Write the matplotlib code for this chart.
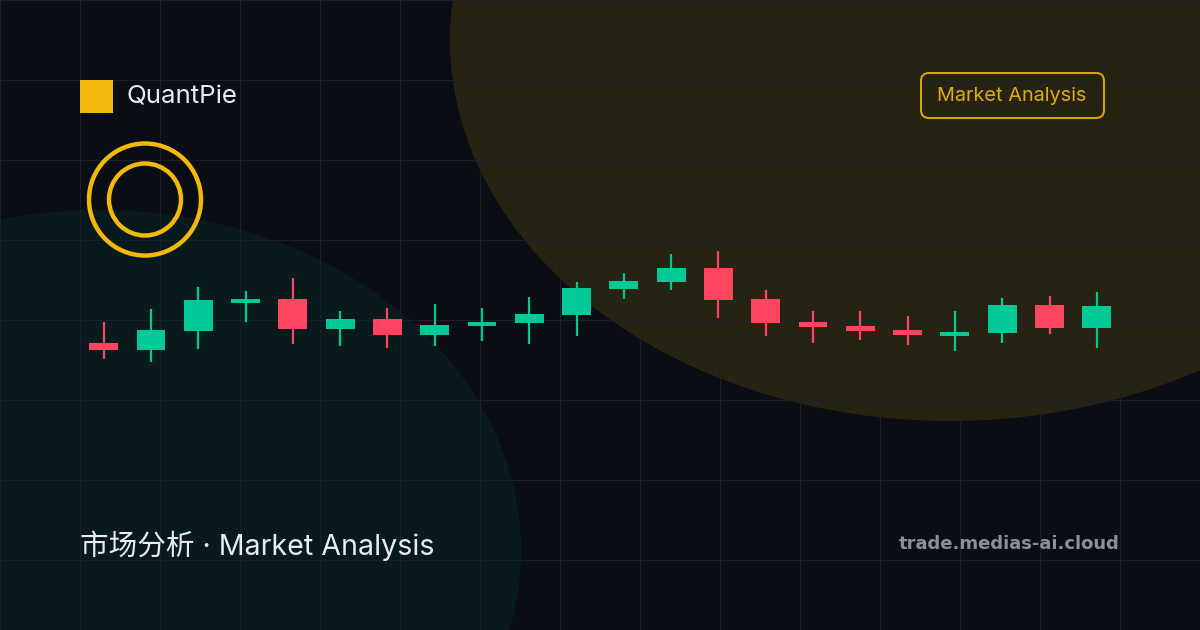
import matplotlib
matplotlib.use("Agg")
import matplotlib.pyplot as plt
from matplotlib.patches import Ellipse, Rectangle, FancyBboxPatch, Circle

BG = "#0a0d14"
GOLD = "#f0b90b"
UP = "#00c896"
DOWN = "#ff4560"
GRID = "#1c212b"

# Candle values (price units)
opens  = [287, 280, 299, 327, 331, 301, 311, 295, 304, 307, 315, 341, 348, 362, 331, 308, 304, 300, 294, 297, 325, 302]
closes = [280, 300, 330, 331, 301, 311, 295, 305, 308, 316, 342, 349, 362, 330, 307, 303, 299, 295, 298, 325, 302, 324]
highs  = [308, 321, 343, 339, 352, 319, 322, 326, 322, 333, 348, 357, 376, 379, 340, 319, 319, 314, 319, 332, 334, 338]
lows   = [271, 268, 281, 308, 286, 284, 282, 284, 289, 286, 294, 331, 340, 312, 294, 287, 290, 285, 279, 287, 296, 282]

grid_x = list(range(0, 1201, 80))
grid_y = list(range(0, 631, 80))

fig = plt.figure(figsize=(12, 6.3), dpi=100, facecolor=BG)
ax = fig.add_axes([0, 0, 1, 1])
ax.set_xlim(0, 1200)
ax.set_ylim(630, 0)
ax.axis("off")

ax.add_patch(Ellipse((950, 40), 1000, 762, fc=GOLD, ec="none", alpha=0.13, zorder=1))
ax.add_patch(Ellipse((100, 550), 842, 680, fc=UP, ec="none", alpha=0.07, zorder=1))

for x in grid_x:
    ax.plot([x, x], [0, 630], color=GRID, alpha=0.9, lw=0.8, zorder=2, solid_capstyle="butt")
for y in grid_y:
    ax.plot([0, 1200], [y, y], color=GRID, alpha=0.9, lw=0.8, zorder=2, solid_capstyle="butt")

ax.add_patch(Rectangle((80, 80), 33, 33, fc=GOLD, ec="none", zorder=4))
ax.add_patch(Circle((145, 199.5), 56, fc="none", ec=GOLD, lw=3.2, zorder=4))
ax.add_patch(Circle((145, 199.5), 36, fc="none", ec=GOLD, lw=3.2, zorder=4))
ax.add_patch(FancyBboxPatch((921, 73), 183, 45, boxstyle="round,pad=0,rounding_size=8",
                            fc="none", ec=GOLD, lw=1.4, alpha=0.9, zorder=4))

ax.text(126, 97, "QuantPie", color="#e8ecf2", fontsize=18.6, family="Inter",
        va="center", ha="left", zorder=5)
ax.text(1012, 96, "Market Analysis", color=GOLD, fontsize=14.3, family="Inter", alpha=0.92,
        va="center", ha="center", zorder=5)
ax.text(80, 546, "市场分析 · Market Analysis", color="#e8ecf2", fontsize=20.6,
        family=["Inter", "Noto Sans CJK SC", "DejaVu Sans"], va="center", ha="left", zorder=5)
ax.text(1119.5, 544, "trade.medias-ai.cloud", color="#8a8f9a", fontsize=13, family="DejaVu Sans",
        fontweight="bold", va="center", ha="right", zorder=5)

# Candles: index-and-price axes aligned over the canvas
cax = fig.add_axes([0, 0, 1, 1])
cax.patch.set_alpha(0)
cax.axis("off")
step = 47.29
cax.set_xlim(-103.7 / step, (1200 - 103.7) / step)
cax.set_ylim(0, 630)
for i, (o, c, h, l) in enumerate(zip(opens, closes, highs, lows)):
    col = UP if c > o else DOWN
    cax.plot([i, i], [l, h], color=col, lw=1.6, solid_capstyle="butt", zorder=5)
    cax.add_patch(Rectangle((i - 0.305, min(o, c)), 0.61, abs(c - o), fc=col, ec="none", zorder=6))

fig.savefig("out.png", dpi=100, facecolor=BG)
